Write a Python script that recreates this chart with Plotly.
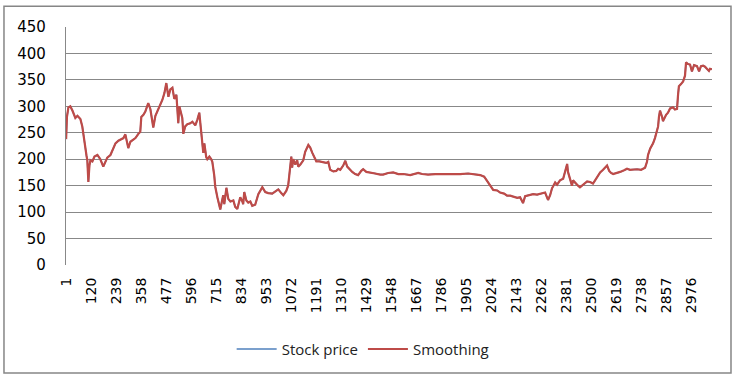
import plotly.graph_objects as go

# Day index (category number) and closing values
day = [1, 5, 12, 21, 31, 45, 55, 69, 78, 83, 93, 98, 102, 107, 112, 117, 126, 136, 150, 164,
       178, 188, 197, 212, 221, 236, 250, 264, 274, 283, 297, 307, 316, 331, 345, 354, 359, 369, 378, 392,
       402, 407, 416, 426, 435, 445, 459, 469, 478, 488, 497, 507, 516, 526, 530, 535, 540, 549, 554, 559,
       568, 578, 592, 602, 616, 626, 635, 645, 654, 659, 668, 673, 683, 692, 697, 706, 711, 721, 725, 735,
       745, 749, 754, 764, 773, 783, 797, 806, 816, 830, 840, 844, 849, 859, 868,
       878, 887, 901, 916, 935, 949, 963, 982, 1001, 1011, 1025, 1035, 1049, 1058, 1063, 1073, 1077, 1082, 1092, 1101,
       1106, 1116, 1130, 1139, 1154, 1163, 1173, 1182, 1192, 1206, 1225, 1239, 1249, 1258, 1273, 1287, 1296, 1306, 1320, 1330,
       1339, 1353, 1363, 1377, 1391, 1406, 1415, 1430, 1449, 1472, 1496, 1510, 1534, 1558, 1582, 1606, 1639, 1663, 1677, 1696,
       1724, 1758, 1782, 1805, 1843, 1877, 1915, 1948, 1972, 1991, 2000, 2010,
       2019, 2034, 2053, 2067, 2086, 2100, 2115, 2129, 2148, 2162, 2176, 2186, 2195, 2210, 2224, 2243, 2257, 2272, 2281, 2295,
       2305, 2314, 2329, 2338, 2352, 2367, 2376, 2386, 2390, 2400, 2409, 2414, 2424, 2438, 2447, 2462, 2481, 2495, 2509, 2519,
       2533, 2543, 2557, 2576, 2586, 2595, 2605, 2624, 2638, 2657, 2671, 2685, 2704, 2719, 2738, 2757, 2766, 2771, 2781, 2795,
       2804, 2814, 2819, 2823, 2828, 2838, 2842, 2857, 2866, 2876, 2890, 2899, 2909, 2914, 2918, 2928, 2938, 2947, 2952, 2961,
       2971, 2980, 2990, 3004, 3014, 3023, 3033, 3042, 3052, 3061, 3066, 3075]

stock_price = [238, 280, 298, 300, 292, 278, 282, 276, 262, 246, 225, 207, 198, 157, 188, 198, 196, 205, 208, 200,
               186, 195, 203, 208, 216, 230, 235, 238, 240, 247, 221, 233, 236, 240, 248, 252, 280, 284, 290, 306,
               295, 283, 260, 282, 290, 302, 312, 325, 344, 318, 332, 335, 314, 322, 302, 268, 300, 288, 278, 248,
               262, 266, 268, 271, 264, 275, 288, 248, 212, 230, 204, 200, 205, 200, 195, 170, 148, 128, 120, 105,
               125, 132, 115, 146, 125, 120, 122, 110, 106, 128, 120, 115, 138, 122, 118,
               120, 112, 114, 134, 147, 138, 136, 135, 140, 143, 136, 132, 140, 150, 168, 205, 184, 200, 190, 198,
               186, 190, 198, 214, 227, 222, 212, 204, 196, 196, 195, 193, 195, 180, 177, 178, 182, 180, 188, 197,
               186, 180, 176, 172, 170, 178, 181, 176, 174, 173, 171, 171, 174, 175, 172, 172, 170, 172, 174, 172,
               171, 172, 172, 171, 172, 172, 173, 172, 170, 167, 162, 155,
               150, 142, 141, 137, 135, 131, 131, 129, 127, 128, 117, 130, 131, 133, 134, 133, 134, 136, 137, 123,
               132, 145, 156, 152, 160, 163, 178, 191, 176, 163, 150, 160, 155, 150, 147, 152, 158, 157, 154, 160,
               168, 175, 180, 188, 178, 174, 172, 174, 176, 179, 182, 180, 181, 181, 180, 184, 195, 208, 220, 230,
               240, 255, 262, 280, 292, 280, 272, 284, 288, 296, 298, 294, 295, 322, 338, 342, 347, 358, 383, 380,
               379, 366, 378, 376, 366, 376, 377, 375, 371, 367, 371, 370]

smoothing = list(stock_price)

tick_days = [1, 120, 239, 358, 477, 596, 715, 834, 953, 1072, 1191, 1310, 1429, 1548, 1667,
             1786, 1905, 2024, 2143, 2262, 2381, 2500, 2619, 2738, 2857, 2976]
y_ticks = [0, 50, 100, 150, 200, 250, 300, 350, 400, 450]

fig = go.Figure()
fig.add_trace(go.Scatter(x=day, y=stock_price, mode="lines", name="Stock price",
                         line=dict(color="#4F81BD", width=1.5)))
fig.add_trace(go.Scatter(x=day, y=smoothing, mode="lines", name="Smoothing",
                         line=dict(color="#BE4B48", width=2.2)))

fig.update_layout(
    width=734, height=378,
    margin=dict(l=66, r=22, t=27, b=111),
    paper_bgcolor="white", plot_bgcolor="white",
    showlegend=True,
    legend=dict(orientation="h", x=0.46, xanchor="center", y=-0.354, yanchor="middle",
                font=dict(family="Open Sans", size=15, color="#222222"),
                itemwidth=40, tracegroupgap=0),
    shapes=[dict(type="rect", xref="paper", yref="paper",
                 x0=-0.096, x1=1.0294, y0=-0.454, y1=1.0875,
                 line=dict(color="#868686", width=1.5), fillcolor="rgba(0,0,0,0)", layer="below")],
)

fig.update_xaxes(range=[0.5, 3075.5], tickmode="array", tickvals=tick_days,
                 ticktext=[str(t) for t in tick_days], tickangle=-90,
                 tickfont=dict(family="DejaVu Sans", size=14, color="#000000"),
                 ticks="outside", ticklen=6, tickcolor="rgba(0,0,0,0)",
                 showgrid=False, zeroline=False, showline=False)
fig.update_yaxes(range=[0, 450], tickmode="array", tickvals=y_ticks,
                 tickfont=dict(family="DejaVu Sans", size=15, color="#000000"),
                 ticks="outside", ticklen=16, tickcolor="rgba(0,0,0,0)",
                 showgrid=True, gridcolor="#888888", gridwidth=1.3,
                 zeroline=False, showline=True, linecolor="#888888", linewidth=1.3)

fig.write_html("out.html")
